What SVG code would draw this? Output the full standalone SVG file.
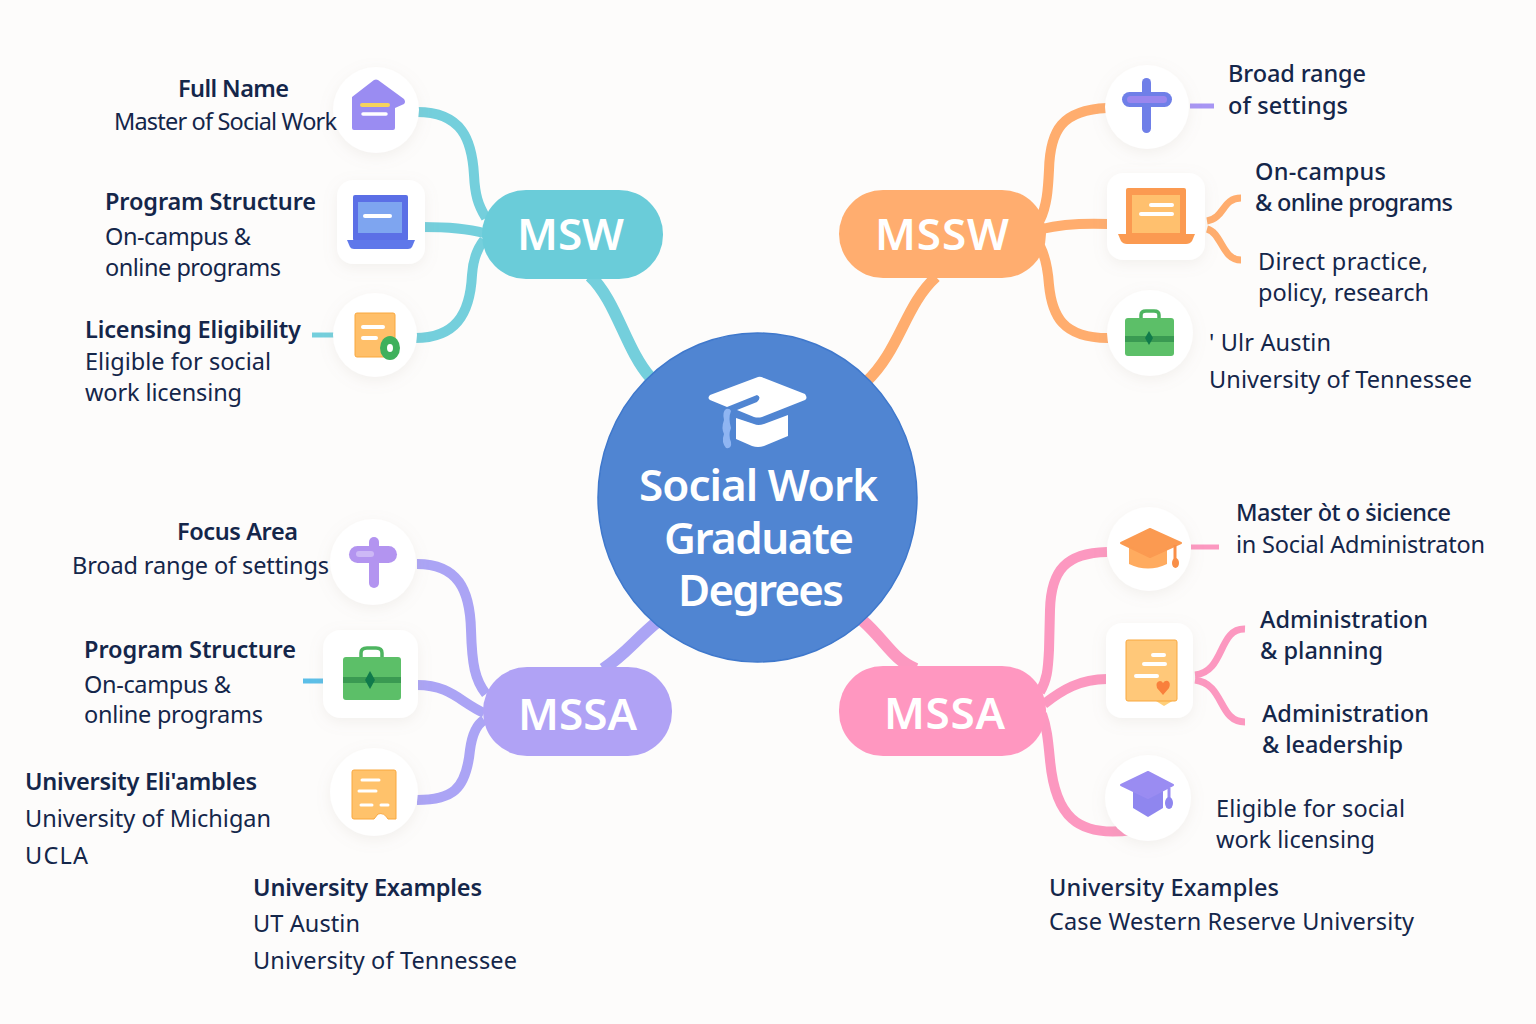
<svg xmlns="http://www.w3.org/2000/svg" width="1536" height="1024" viewBox="0 0 1536 1024">
<style>
text{font-family:"Noto Sans","Open Sans","Liberation Sans",sans-serif;fill:#14264a}
.h{font-size:23.500px;font-weight:600}
.b{font-size:23.500px;font-weight:400}
.t{font-size:44px;font-weight:600;fill:#fff}
.c{fill:none;stroke-linecap:butt}
.teal{stroke:#74cfdc}.or{stroke:#ffad6e}.pu{stroke:#aba4f5}.pk{stroke:#fc98c0}
.w{fill:#fff}.wl{stroke:#fff;stroke-linecap:round;fill:none}
.card{fill:#fff;filter:url(#s)}
</style>
<defs>
<filter id="s" x="-30%" y="-30%" width="160%" height="170%"><feDropShadow dx="0" dy="4" stdDeviation="7" flood-color="#a89c90" flood-opacity="0.13"/></filter>
</defs>
<rect width="1536" height="1024" fill="#fdfcfb"/>
<g id="connectors">
<g class="c teal" stroke-width="10">
<path d="M590,276C616,300 626,350 650,377" stroke-width="12"/>
<path d="M417,112C462,112 472,140 474,175C475,195 478,205 486,218"/>
<path d="M423,227C445,227 465,228 484,233"/>
<path d="M415,338C455,338 470,315 472,275C473,260 476,250 484,240"/>
<path d="M312,335H334" stroke-width="5"/>
</g>
<g class="c or" stroke-width="10">
<path d="M866,382C900,350 905,305 936,277" stroke-width="11"/>
<path d="M1107,108C1062,110 1050,130 1049,170C1048,190 1047,205 1040,220"/>
<path d="M1108,224C1080,223 1062,224 1042,229"/>
<path d="M1108,338C1062,338 1052,315 1049,285C1048,270 1046,258 1040,246"/>
<path d="M1207,221C1225,218 1222,198 1241,198" stroke-width="7"/>
<path d="M1207,229C1222,233 1222,260 1241,260" stroke-width="7"/>
<path d="M1190,106H1214" stroke-width="5" style="stroke:#a795f3"/>
</g>
<g class="c pu" stroke-width="10">
<path d="M657,622C635,640 625,655 603,669" stroke-width="12"/>
<path d="M417,564C458,564 470,590 471,630C472,665 475,680 486,694"/>
<path d="M417,685C450,685 460,702 484,713"/>
<path d="M417,800C452,800 466,790 470,750C472,735 476,725 484,720"/>
<path d="M303,681H325" stroke-width="5" style="stroke:#5cbfe8"/>
</g>
<g class="c pk" stroke-width="10">
<path d="M862,620C885,640 893,660 916,669" stroke-width="12"/>
<path d="M1107,552C1066,553 1051,570 1050,610L1049,650C1048,670 1047,680 1040,692"/>
<path d="M1107,679C1080,679 1062,690 1044,704"/>
<path d="M1132,830C1076,838 1055,815 1050,760C1048,740 1047,728 1042,714"/>
<path d="M1191,547H1219" stroke-width="5"/>
<path d="M1195,675C1225,672 1218,628 1245,629" stroke-width="7"/>
<path d="M1195,680C1225,684 1218,722 1245,722" stroke-width="7"/>
</g>
</g>
<g id="center">
<ellipse cx="757.500" cy="497.500" rx="159.500" ry="164.500" fill="#5085d2" stroke="#3f78cc" stroke-width="1.500"/>
<path class="w" d="M758,377Q760,376 764,378L805,394Q808,398 805,400L762,417Q758,418 754,417L737,410L757,402Q762,397 757,395L727,407L710,400Q707,398 710,395Z"/>
<path class="w" d="M736,418L754,424Q758,426 764,424L788,415V436L764,446Q758,448 752,446L736,439Z"/>
<path d="M726,409Q722,412 724,420Q721,428 724,434Q721,442 726,448Q732,449 731,442Q728,435 731,428Q728,418 731,411Q730,408 726,409Z" fill="#8fb5f2"/>
<text class="t" x="639" y="501" textLength="239">Social Work</text>
<text class="t" x="664" y="554" textLength="190">Graduate</text>
<text class="t" x="678" y="606" textLength="166">Degrees</text>
</g>
<g id="msw"><rect x="482" y="190" width="181" height="89" rx="44" fill="#6accd9"/><text class="t" x="517" y="250" textLength="107">MSW</text></g>
<g id="mssw"><rect x="839" y="190" width="207" height="88" rx="44" fill="#ffad6f"/><text class="t" x="875" y="250" textLength="134">MSSW</text></g>
<g id="mssa-left"><rect x="483" y="667" width="189" height="89" rx="44" fill="#b0a2f5"/><text class="t" x="518" y="730" textLength="119">MSSA</text></g>
<g id="mssa-right"><rect x="839" y="666" width="207" height="90" rx="44" fill="#ff97c0"/><text class="t" x="884" y="729" textLength="121">MSSA</text></g>

<g id="full-name">
<circle class="card" cx="376" cy="110" r="43"/>
<path d="M352,97L374,80Q376,79 378,80L404,99Q406,102 404,104L395,108V128Q395,130 393,130H354Q352,130 352,128Z" fill="#9a8cf2"/>
<path d="M362,105H388" stroke="#f6d35c" stroke-width="4" stroke-linecap="round"/>
<path class="wl" d="M363,114H386" stroke-width="3.500"/>
<text class="h" x="178" y="97" textLength="111">Full Name</text>
<text class="b" x="114" y="130" textLength="223">Master of Social Work</text>
</g>
<g id="msw-structure">
<rect class="card" x="337" y="180" width="88" height="84" rx="16"/>
<rect x="353" y="195" width="55" height="46" rx="2" fill="#5b6fe6"/>
<rect x="358" y="202" width="44" height="31" fill="#7ea5f0"/>
<path d="M347,240H415L412,247Q411,249 408,249H354Q351,249 350,247Z" fill="#5f78ea"/>
<path class="wl" d="M365,216H390" stroke-width="4"/>
<text class="h" x="105" y="210" textLength="211">Program Structure</text>
<text class="b" x="105" y="245" textLength="146">On-campus &amp;</text>
<text class="b" x="105" y="276" textLength="176">online programs</text>
</g>
<g id="licensing">
<circle class="card" cx="375" cy="335" r="42"/>
<rect x="355" y="313" width="40" height="44" rx="2" fill="#ffbf69" stroke="#f9a83f"/>
<path class="wl" d="M363,327H383M363,338H376" stroke-width="4"/>
<ellipse cx="390" cy="348" rx="10" ry="12" fill="#3fb05c"/><ellipse cx="390" cy="348" rx="3" ry="4" fill="#fff"/>
<text class="h" x="85" y="338" textLength="216">Licensing Eligibility</text>
<text class="b" x="85" y="370" textLength="186">Eligible for social</text>
<text class="b" x="85" y="401" textLength="157">work licensing</text>
</g>
<g id="mssw-settings">
<circle class="card" cx="1147" cy="107" r="42"/>
<rect x="1142" y="78" width="9" height="55" rx="4.500" fill="#6f7fe8"/>
<rect x="1122" y="92" width="50" height="15" rx="7.500" fill="#6f7fe8"/>
<rect x="1127" y="96" width="40" height="7" rx="3.500" fill="#9a86ee"/>
<text class="h" x="1228" y="82" textLength="138" style="font-weight:500">Broad range</text>
<text class="h" x="1228" y="114" textLength="120" style="font-weight:500">of settings</text>
</g>
<g id="mssw-programs">
<rect class="card" x="1107" y="173" width="98" height="87" rx="16"/>
<rect x="1126" y="188" width="60" height="48" rx="2" fill="#fb9a51"/>
<rect x="1132" y="195" width="48" height="38" fill="#ffc06e"/>
<path d="M1118,234H1195L1192,241Q1190,244 1186,244H1127Q1123,244 1121,241Z" fill="#fb9a51"/>
<path class="wl" d="M1151,205H1172M1141,214H1172" stroke-width="4"/>
<text class="h" x="1255" y="180" textLength="131" style="font-weight:500">On-campus</text>
<text class="h" x="1255" y="211" textLength="198" style="font-weight:500">&amp; online programs</text>
<text class="b" x="1258" y="270" textLength="170">Direct practice,</text>
<text class="b" x="1258" y="301" textLength="171">policy, research</text>
</g>
<g id="mssw-universities">
<circle class="card" cx="1150" cy="333" r="43"/>
<path d="M1141,319V315Q1141,311 1146,311H1154Q1159,311 1159,315V319" fill="none" stroke="#4db560" stroke-width="3.500"/>
<rect x="1125" y="318" width="49" height="38" rx="3" fill="#5cbf68"/>
<rect x="1125" y="336" width="49" height="6" fill="#3a9a52"/>
<path d="M1149,331L1153,338L1149,345L1145,338Z" fill="#107a4b"/>
<text class="b" x="1209" y="351" textLength="122">' Ulr Austin</text>
<text class="b" x="1209" y="388" textLength="263">University of Tennessee</text>
</g>
<g id="mssa-focus">
<circle class="card" cx="373" cy="562" r="43"/>
<rect x="369" y="537" width="10" height="51" rx="5" fill="#b394f0"/>
<rect x="349" y="546" width="48" height="17" rx="8.500" fill="#b394f0"/>
<rect x="356" y="551" width="18" height="6" rx="3" fill="#cdb8f6"/>
<text class="h" x="177" y="540" textLength="121">Focus Area</text>
<text class="b" x="72" y="574" textLength="257">Broad range of settings</text>
</g>
<g id="mssa-structure">
<rect class="card" x="323" y="630" width="95" height="88" rx="18"/>
<path d="M361,657V653Q361,648 367,648H376Q382,648 382,653V657" fill="none" stroke="#4db560" stroke-width="3.500"/>
<rect x="343" y="657" width="58" height="43" rx="3" fill="#5cbf68"/>
<rect x="343" y="677" width="58" height="6" fill="#3a9a52"/>
<path d="M370,671L375,680L370,689L365,680Z" fill="#107a4b"/>
<text class="h" x="84" y="658" textLength="212">Program Structure</text>
<text class="b" x="84" y="693" textLength="147">On-campus &amp;</text>
<text class="b" x="84" y="723" textLength="179">online programs</text>
</g>
<g id="mssa-universities">
<circle class="card" cx="374" cy="792" r="44"/>
<path d="M352,772Q352,770 354,770H394Q396,770 396,772V819H388Q384,812 378,814L374,819H354Q352,819 352,817Z" fill="#ffc26b" stroke="#f9a83f"/>
<path class="wl" d="M362,780H379M359,791H376M361,805H372M381,805H388" stroke-width="3"/>
<text class="h" x="25" y="790" textLength="232">University Eli'ambles</text>
<text class="b" x="25" y="827" textLength="246">University of Michigan</text>
<text class="b" x="25" y="864" textLength="63">UCLA</text>
</g>
<g id="examples-left">
<text class="h" x="253" y="896" textLength="229">University Examples</text>
<text class="b" x="253" y="932" textLength="107">UT Austin</text>
<text class="b" x="253" y="969" textLength="264">University of Tennessee</text>
</g>
<g id="mssa-degree">
<circle class="card" cx="1149" cy="549" r="42"/>
<path d="M1129,547H1167V564Q1148,573 1129,564Z" fill="#ffab5f"/>
<path d="M1121,543L1150,529L1181,543L1150,557Z" fill="#fb9a51" stroke="#fb9a51" stroke-width="2" stroke-linejoin="round"/>
<path d="M1175,545V562" stroke="#f98f48" stroke-width="3"/><ellipse cx="1175.500" cy="563" rx="3.500" ry="5" fill="#f98f48"/>
<text class="h" x="1236" y="521" textLength="215" style="font-weight:500">Master òt o ṡicience</text>
<text class="b" x="1236" y="553" textLength="249">in Social Administraton</text>
</g>
<g id="mssa-planning">
<rect class="card" x="1106" y="623" width="87" height="95" rx="16"/>
<path d="M1156,701L1164,706L1174,700Z" fill="#ffcf7a"/>
<rect x="1126" y="640" width="51" height="61" rx="2" fill="#ffc879" stroke="#f9a83f"/>
<path class="wl" d="M1153,655H1164M1144,664H1165M1136,676H1157" stroke-width="4"/>
<path d="M1163,695L1157,688Q1155,682 1160,681Q1162,681 1163,683Q1165,680 1168,681Q1171,683 1169,688Z" fill="#f9803c"/>
<text class="h" x="1260" y="628" textLength="168" style="font-weight:500">Administration</text>
<text class="h" x="1260" y="659" textLength="123" style="font-weight:500">&amp; planning</text>
<text class="h" x="1262" y="722" textLength="167" style="font-weight:500">Administration</text>
<text class="h" x="1262" y="753" textLength="141" style="font-weight:500">&amp; leadership</text>
</g>
<g id="mssa-licensing">
<circle class="card" cx="1148" cy="798" r="43"/>
<path d="M1133,788H1163V808L1148,817L1133,808Z" fill="#8f86ef"/>
<path d="M1121,785L1148,772L1173,785L1148,798Z" fill="#9a8cf2" stroke="#9a8cf2" stroke-width="2" stroke-linejoin="round"/>
<path d="M1169,788V798" stroke="#9a8cf2" stroke-width="3"/><ellipse cx="1169" cy="803" rx="4" ry="6" fill="#8f86ef"/>
<text class="b" x="1216" y="817" textLength="189">Eligible for social</text>
<text class="b" x="1216" y="848" textLength="159">work licensing</text>
</g>
<g id="examples-right">
<text class="h" x="1049" y="896" textLength="230" style="font-weight:500">University Examples</text>
<text class="b" x="1049" y="930" textLength="365">Case Western Reserve University</text>
</g>
</svg>
